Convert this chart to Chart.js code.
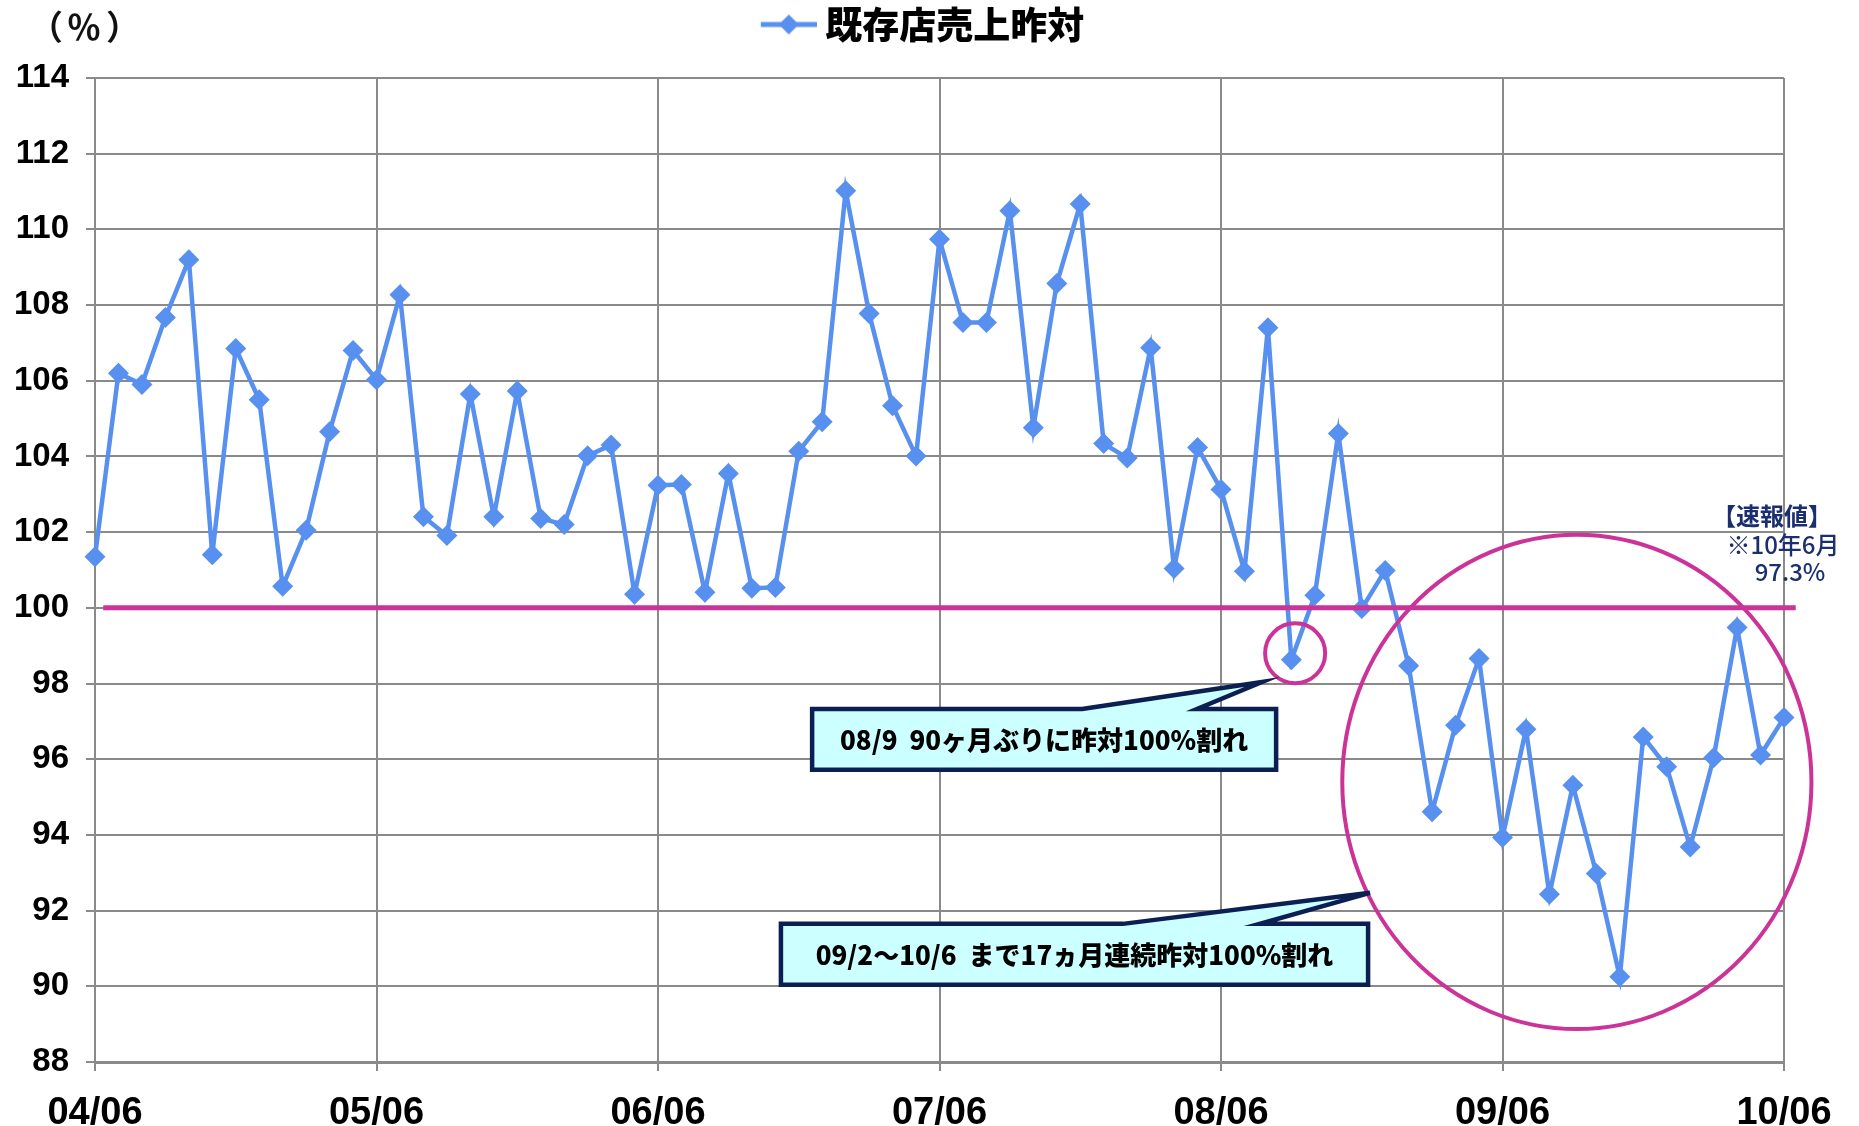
<!DOCTYPE html>
<html><head><meta charset="utf-8">
<script src="https://cdn.jsdelivr.net/npm/chart.js@4.4.1/dist/chart.umd.min.js"></script>
<style>html,body{margin:0;padding:0;background:#fff;}#wrap{width:1859px;height:1126px;position:relative;}</style>
</head><body><div id="wrap"><canvas id="c"></canvas></div>
<script>
// ---- data ----
const seriesName = '既存店売上昨対';
const values = [
  101.35, 106.20, 105.90, 107.67, 109.20, 101.40, 106.85, 105.50, 100.57, 102.05, 104.65, 106.80,
  106.03, 108.27, 102.41, 101.91, 105.65, 102.41, 105.73, 102.36, 102.20, 104.02, 104.30, 100.36,
  103.24, 103.26, 100.41, 103.55, 100.52, 100.54, 104.14, 104.92, 111.02, 107.78, 105.34, 104.01,
  109.74, 107.54, 107.54, 110.49, 104.76, 108.57, 110.67, 104.34, 103.96, 106.87, 101.04, 104.24,
  103.13, 100.97, 107.40, 98.63, 100.33, 104.61, 99.98, 100.99, 98.47, 94.61, 96.90, 98.66,
  93.93, 96.79, 92.43, 95.31, 92.98, 90.25, 96.59, 95.80, 93.68, 96.04, 99.48, 96.11,
  97.10
];
const tickLabels = ['04/06','05/06','06/06','07/06','08/06','09/06','10/06'];
const unitChars = ['（', '％', '）'];
const noteLines = ['【速報値】', '※10年6月', '97.3%'];
const callout1Text = '08/9  90ヶ月ぶりに昨対100%割れ';
const callout2Text = '09/2～10/6  まで17ヵ月連続昨対100%割れ';
const referenceValue = 100;

// ---- styles ----
const BLUE = '#5890F0';
const MAGENTA = '#CC3399';
const GRID = '#8a8a8a';
const NAVY = '#0C1F52';
const NUMFONT = '"Liberation Sans", Arial, sans-serif';
const JPFONT = '"Noto Sans CJK JP", "Noto Sans", sans-serif';

// legend icon: line + diamond (drawn in the right part of a wider canvas so it sits close to the text)
const icon = document.createElement('canvas');
icon.width = 76; icon.height = 22;
(function(){
  const g = icon.getContext('2d');
  g.strokeStyle = BLUE; g.lineWidth = 5;
  g.beginPath(); g.moveTo(20, 11); g.lineTo(76, 11); g.stroke();
  g.fillStyle = BLUE;
  g.beginPath(); g.moveTo(48, 1); g.lineTo(58, 11); g.lineTo(48, 21); g.lineTo(38, 11); g.closePath(); g.fill();
})();

// annotation geometry in data units (x = month index, y = value)
const refLine = {from: 0.35, to: 72.5};
const ellipses = [
  {cx: 51.16, cy: 98.80, rx: 1.28, ry: 0.79},
  {cx: 63.17, cy: 95.40, rx: 10.0, ry: 6.53}
];
const callouts = [
  {text: callout1Text, l: 30.57, r: 50.35, t: 97.33, b: 95.72, b1: 42.08, b2: 46.98, tipX: 49.75, tipY: 98.04},
  {text: callout2Text, l: 29.24, r: 54.27, t: 91.65, b: 90.04, b1: 43.82, b2: 49.66, tipX: 54.35, tipY: 92.47}
];

const annotations = {
  id: 'annotations',
  afterDatasetsDraw(chart) {
    const ctx = chart.ctx, xs = chart.scales.x, ys = chart.scales.y;
    ctx.save();
    ctx.strokeStyle = MAGENTA; ctx.lineWidth = 5;
    const yy = ys.getPixelForValue(referenceValue);
    ctx.beginPath(); ctx.moveTo(xs.getPixelForValue(refLine.from), yy); ctx.lineTo(xs.getPixelForValue(refLine.to), yy); ctx.stroke();
    ctx.lineWidth = 4;
    ellipses.forEach(e => {
      const cx = xs.getPixelForValue(e.cx), cy = ys.getPixelForValue(e.cy);
      const rx = xs.getPixelForValue(e.cx + e.rx) - cx;
      const ry = cy - ys.getPixelForValue(e.cy + e.ry);
      ctx.beginPath(); ctx.ellipse(cx, cy, rx, ry, 0, 0, Math.PI * 2); ctx.stroke();
    });
    callouts.forEach(c => {
      const L = xs.getPixelForValue(c.l), R = xs.getPixelForValue(c.r);
      const T = ys.getPixelForValue(c.t), B = ys.getPixelForValue(c.b);
      ctx.beginPath();
      ctx.moveTo(L, T);
      ctx.lineTo(xs.getPixelForValue(c.b1), T);
      ctx.lineTo(xs.getPixelForValue(c.tipX), ys.getPixelForValue(c.tipY));
      ctx.lineTo(xs.getPixelForValue(c.b2), T);
      ctx.lineTo(R, T); ctx.lineTo(R, B); ctx.lineTo(L, B); ctx.closePath();
      ctx.fillStyle = '#CCFFFF'; ctx.fill();
      ctx.strokeStyle = NAVY; ctx.lineWidth = 4.5; ctx.lineJoin = 'miter'; ctx.stroke();
      ctx.fillStyle = '#000';
      ctx.font = '900 26px ' + JPFONT;
      ctx.textAlign = 'center'; ctx.textBaseline = 'middle';
      ctx.fillText(c.text, (L + R) / 2, (T + B) / 2 + 1);
    });
    ctx.restore();
  },
  afterDraw(chart) {
    const ctx = chart.ctx;
    ctx.save();
    ctx.fillStyle = '#111';
    ctx.font = 'bold 34px ' + JPFONT;
    ctx.textAlign = 'center'; ctx.textBaseline = 'middle';
    const ux = [46, 84, 123];
    unitChars.forEach((ch, i) => ctx.fillText(ch, ux[i], 27));
    ctx.fillStyle = '#1B2F6E';
    ctx.font = 'bold 24px ' + JPFONT;
    ctx.fillText(noteLines[0], 1772, 516);
    ctx.font = '500 24px ' + JPFONT;
    ctx.fillText(noteLines[1], 1783, 545);
    ctx.fillText(noteLines[2], 1790, 572);
    ctx.restore();
  }
};

const legendFix = {
  id: 'legendFix',
  beforeInit(chart) {
    const lg = chart.legend;
    if (lg) {
      const f = lg.fit.bind(lg);
      lg.fit = function() { f(); this.height = 78; };
    }
  },
  afterLayout(chart) {
    const lg = chart.legend;
    if (lg) { lg.left = 0; lg.right = chart.width - 24; lg.width = chart.width - 24; }
  }
};

new Chart(document.getElementById('c'), {
  type: 'line',
  data: {
    datasets: [{
      label: seriesName,
      data: values.map((v, i) => ({x: i, y: v})),
      borderColor: BLUE, backgroundColor: BLUE,
      borderWidth: 4.5, tension: 0, clip: false,
      pointStyle: 'rectRot', pointRadius: 10.5, pointBorderWidth: 0,
      pointBackgroundColor: BLUE
    }]
  },
  options: {
    responsive: true, maintainAspectRatio: false, animation: false,
    layout: {padding: {left: 0, right: 75, top: 0, bottom: 0}},
    plugins: {
      legend: {
        position: 'top',
        labels: {
          usePointStyle: true, pointStyle: icon, pointStyleWidth: 56,
          font: {family: JPFONT, size: 37, weight: '900'},
          color: '#000', padding: 6
        }
      },
      tooltip: {enabled: false}
    },
    scales: {
      x: {
        type: 'linear', min: 0, max: 72,
        ticks: {stepSize: 12, autoSkip: false, maxRotation: 0,
          callback: v => tickLabels[v / 12],
          font: {family: NUMFONT, size: 38, weight: 'bold'}, color: '#000', padding: 20},
        grid: {color: GRID, lineWidth: 2, tickLength: 9},
        border: {color: GRID, width: 3},
        afterFit(s) { s.height = 64; }
      },
      y: {
        min: 88, max: 114,
        ticks: {stepSize: 2, font: {family: NUMFONT, size: 33, weight: 'bold'}, color: '#000', padding: 17},
        grid: {color: GRID, lineWidth: 2, tickLength: 9},
        border: {color: GRID, width: 2},
        afterFit(s) { s.width = 95; }
      }
    }
  },
  plugins: [legendFix, annotations]
});
</script></body></html>
